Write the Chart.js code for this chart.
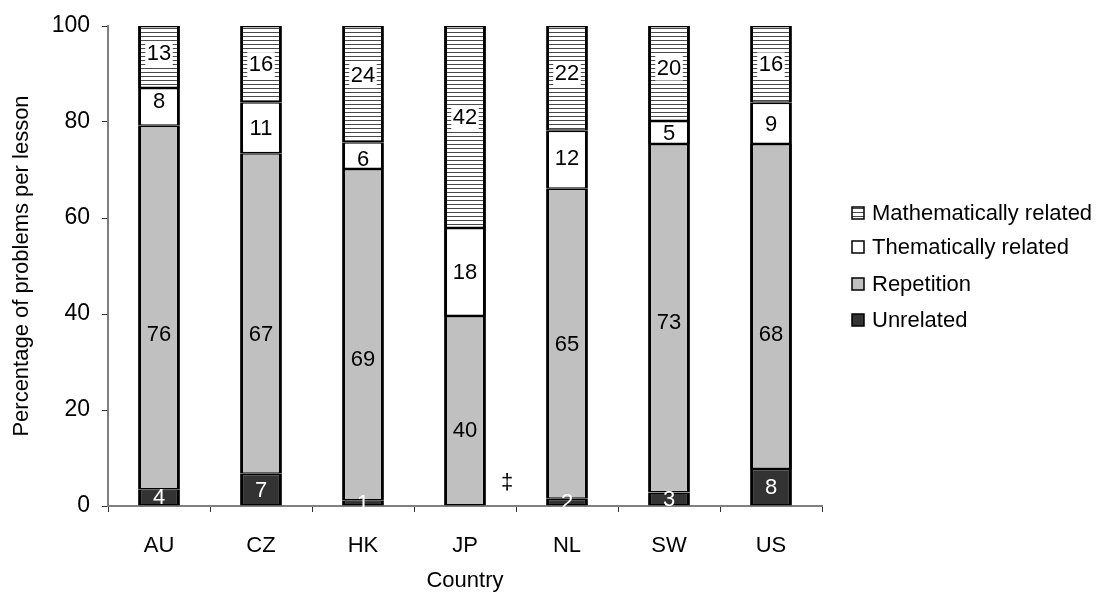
<!DOCTYPE html>
<html lang="en">
  <head>
    <meta charset="UTF-8" />
    <title>Problems per lesson</title>
    <style>
      html, body { margin: 0; padding: 0; background: #fff; }
      #wrap { width: 1098px; height: 595px; }
    </style>
  </head>
  <body>
    <div id="wrap">
      <canvas id="myChart" width="1098" height="595"></canvas>
    </div>
    <script src="https://cdn.jsdelivr.net/npm/chart.js"></script>
    <script>
      const countries = ['AU', 'CZ', 'HK', 'JP', 'NL', 'SW', 'US'];
      // bar heights (labels show them rounded)
      const unrelated = [3.5, 6.7, 1.2, 0, 1.5, 2.8, 7.7];
      const repetition = [75.7, 66.8, 69.0, 39.6, 64.6, 72.6, 67.7];
      const thematic = [7.9, 10.6, 5.6, 18.3, 12.1, 4.8, 8.6];
      const mathematical = [12.9, 15.9, 24.2, 42.1, 21.8, 19.8, 16.0];
      const notes = ['', '', '', '\u2021', '', '', ''];
      const yTicks = [0, 20, 40, 60, 80, 100];

      const FONT = '"Liberation Sans", Arial, sans-serif';

      const makeStripes = () => {
        const c = document.createElement('canvas');
        c.width = 4;
        c.height = 4;
        const g = c.getContext('2d');
        g.fillStyle = '#fff';
        g.fillRect(0, 0, 4, 4);
        g.fillStyle = '#4a4a4a';
        g.fillRect(0, 0, 4, 1);
        return g.createPattern(c, 'repeat');
      };
      const stripes = makeStripes();

      const border = { top: 1.5, bottom: 1.5, left: 3, right: 3 };

      const data = {
        labels: countries,
        datasets: [
          { label: 'Unrelated', data: unrelated, backgroundColor: '#333333', textColor: '#fff' },
          { label: 'Repetition', data: repetition, backgroundColor: '#c0c0c0', textColor: '#000' },
          { label: 'Thematically related', data: thematic, backgroundColor: '#ffffff', textColor: '#000' },
          { label: 'Mathematically related', data: mathematical, backgroundColor: stripes, textColor: '#000', boxed: true },
        ].map((d) => ({
          ...d,
          borderColor: '#000',
          borderWidth: border,
          borderSkipped: false,
          barPercentage: 0.41,
          categoryPercentage: 1,
        })),
      };

      // labels were nudged by hand in the original; pixel shifts per dataset
      const labelShift = {
        1: [26, 20, 24, 19, 0, 4, 27],
        2: [-6, 0, 3, 0, -2, 0, 0],
        3: [-4, 0, -9, -10, -5, -6, 0],
      };

      // value labels inside each segment + the dagger note
      const segmentLabels = {
        id: 'segmentLabels',
        afterDatasetsDraw(chart) {
          const ctx = chart.ctx;
          ctx.save();
          ctx.font = '22px ' + FONT;
          ctx.textAlign = 'center';
          ctx.textBaseline = 'middle';
          chart.data.datasets.forEach((ds, i) => {
            chart.getDatasetMeta(i).data.forEach((bar, j) => {
              const v = Math.round(ds.data[j]);
              if (!v) return;
              const y = (bar.y + bar.base) / 2 + (labelShift[i] ? labelShift[i][j] : 0);
              const txt = String(v);
              if (ds.boxed) {
                const w = ctx.measureText(txt).width + 3;
                ctx.fillStyle = '#fff';
                ctx.fillRect(bar.x - w / 2, y - 12, w, 25);
              }
              ctx.fillStyle = ds.textColor;
              ctx.fillText(txt, bar.x, y + 1);
            });
          });
          const ys = chart.scales.y;
          const first = chart.getDatasetMeta(0).data;
          ctx.fillStyle = '#000';
          notes.forEach((n, j) => {
            if (!n) return;
            ctx.fillText(n, first[j].x + 42, ys.getPixelForValue(0) - 23);
          });
          ctx.restore();
        },
      };

      const sideLegend = {
        id: 'sideLegend',
        afterDraw(chart) {
          const ctx = chart.ctx;
          const rows = [3, 2, 1, 0];
          const ys = [213, 247, 284, 320];
          ctx.save();
          ctx.font = '22px ' + FONT;
          ctx.textBaseline = 'middle';
          rows.forEach((di, k) => {
            const ds = chart.data.datasets[di];
            const y = ys[k];
            ctx.fillStyle = ds.backgroundColor;
            ctx.fillRect(852, y - 6, 12, 12);
            ctx.lineWidth = 1.5;
            ctx.strokeStyle = '#000';
            ctx.strokeRect(852, y - 6, 12, 12);
            ctx.fillStyle = '#000';
            ctx.fillText(ds.label, 872, y + 1);
          });
          ctx.restore();
        },
      };

      const config = {
        type: 'bar',
        data: data,
        options: {
          responsive: false,
          animation: false,
          layout: { padding: { left: 0, top: 26, right: 276, bottom: 0 } },
          plugins: { legend: { display: false }, tooltip: { enabled: false } },
          scales: {
            x: {
              stacked: true,
              afterFit: (s) => { s.height = 89; },
              grid: { display: true, drawOnChartArea: false, offset: true, tickLength: 6, color: '#333' },
              border: { color: '#808080', width: 2 },
              ticks: { color: '#000', padding: 21, font: { family: FONT, size: 22 } },
              title: { display: true, text: 'Country', color: '#000', padding: { top: 0, bottom: 1 }, font: { family: FONT, size: 22 } },
            },
            y: {
              stacked: true,
              min: 0,
              max: 100,
              afterFit: (s) => { s.width = 108; },
              afterBuildTicks: (s) => { s.ticks = yTicks.map((v) => ({ value: v })); },
              grid: { display: true, drawOnChartArea: false, tickLength: 6, color: '#333' },
              border: { color: '#808080', width: 2 },
              ticks: { color: '#000', padding: 12, font: { family: FONT, size: 23 } },
              title: {
                display: true,
                text: 'Percentage of problems per lesson',
                color: '#000',
                padding: { top: 9, bottom: 0 },
                font: { family: FONT, size: 22 },
              },
            },
          },
        },
        plugins: [segmentLabels, sideLegend],
      };

      const myChart = new Chart(document.getElementById('myChart'), config);
    </script>
  </body>
</html>
